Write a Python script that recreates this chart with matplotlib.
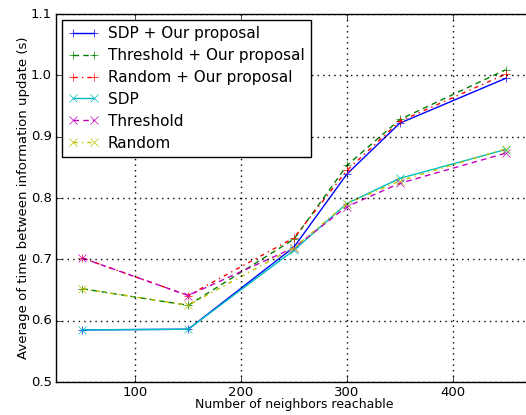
import matplotlib
matplotlib.use("Agg")
import matplotlib.pyplot as plt

plt.style.use("classic")
plt.rcParams['font.family'] = ['DejaVu Sans']

x = [50, 150, 250, 300, 350, 450]
sdp_our = [0.585, 0.586, 0.720, 0.839, 0.922, 0.995]
thr_our = [0.652, 0.625, 0.733, 0.853, 0.928, 1.009]
rnd_our = [0.702, 0.641, 0.735, 0.845, 0.925, 1.002]
sdp = [0.585, 0.586, 0.715, 0.791, 0.832, 0.879]
thr = [0.702, 0.641, 0.719, 0.786, 0.824, 0.873]
rnd = [0.652, 0.625, 0.719, 0.791, 0.828, 0.880]

labels = ["SDP + Our proposal", "Threshold + Our proposal", "Random + Our proposal",
          "SDP", "Threshold", "Random"]
series = [sdp_our, thr_our, rnd_our, sdp, thr, rnd]
colors = ["b", "g", "r", "c", "m", "y"]
dashes = [None, (4, 3), (3, 3, 1, 3), None, (4, 3), (3, 3, 1, 3)]
markers = ["+", "+", "+", "x", "x", "x"]

fig = plt.figure(figsize=(5.26, 4.15), dpi=100)
fig.patch.set_facecolor("white")
ax = fig.add_axes([56/526, 1-382/415, (532-56)/526, (382-14)/415])
for s, l, c, d, m in zip(series, labels, colors, dashes, markers):
    line, = ax.plot(x, s, color=c, marker=m, label=l, markersize=6, linewidth=1)
    if d is not None:
        line.set_dashes(d)

ax.set_xlim(25, 475)
ax.set_ylim(0.5, 1.1)
ax.set_xticks([100, 200, 300, 400])
ax.set_yticks([0.5, 0.6, 0.7, 0.8, 0.9, 1.0, 1.1])
ax.tick_params(labelsize=9.5, pad=3)
ax.grid(True, linestyle=":", color="k", linewidth=1)
ax.set_xlabel("Number of neighbors reachable", fontsize=9, labelpad=-1)
ax.set_ylabel("Average of time between information update (s)", fontsize=9.5, labelpad=0.5)
ax.legend(loc="upper left", fontsize=11, numpoints=2, handlelength=2.0,
          borderaxespad=0.4, labelspacing=0.45, handletextpad=0.6)
fig.savefig("out.png", dpi=100, facecolor="white")
